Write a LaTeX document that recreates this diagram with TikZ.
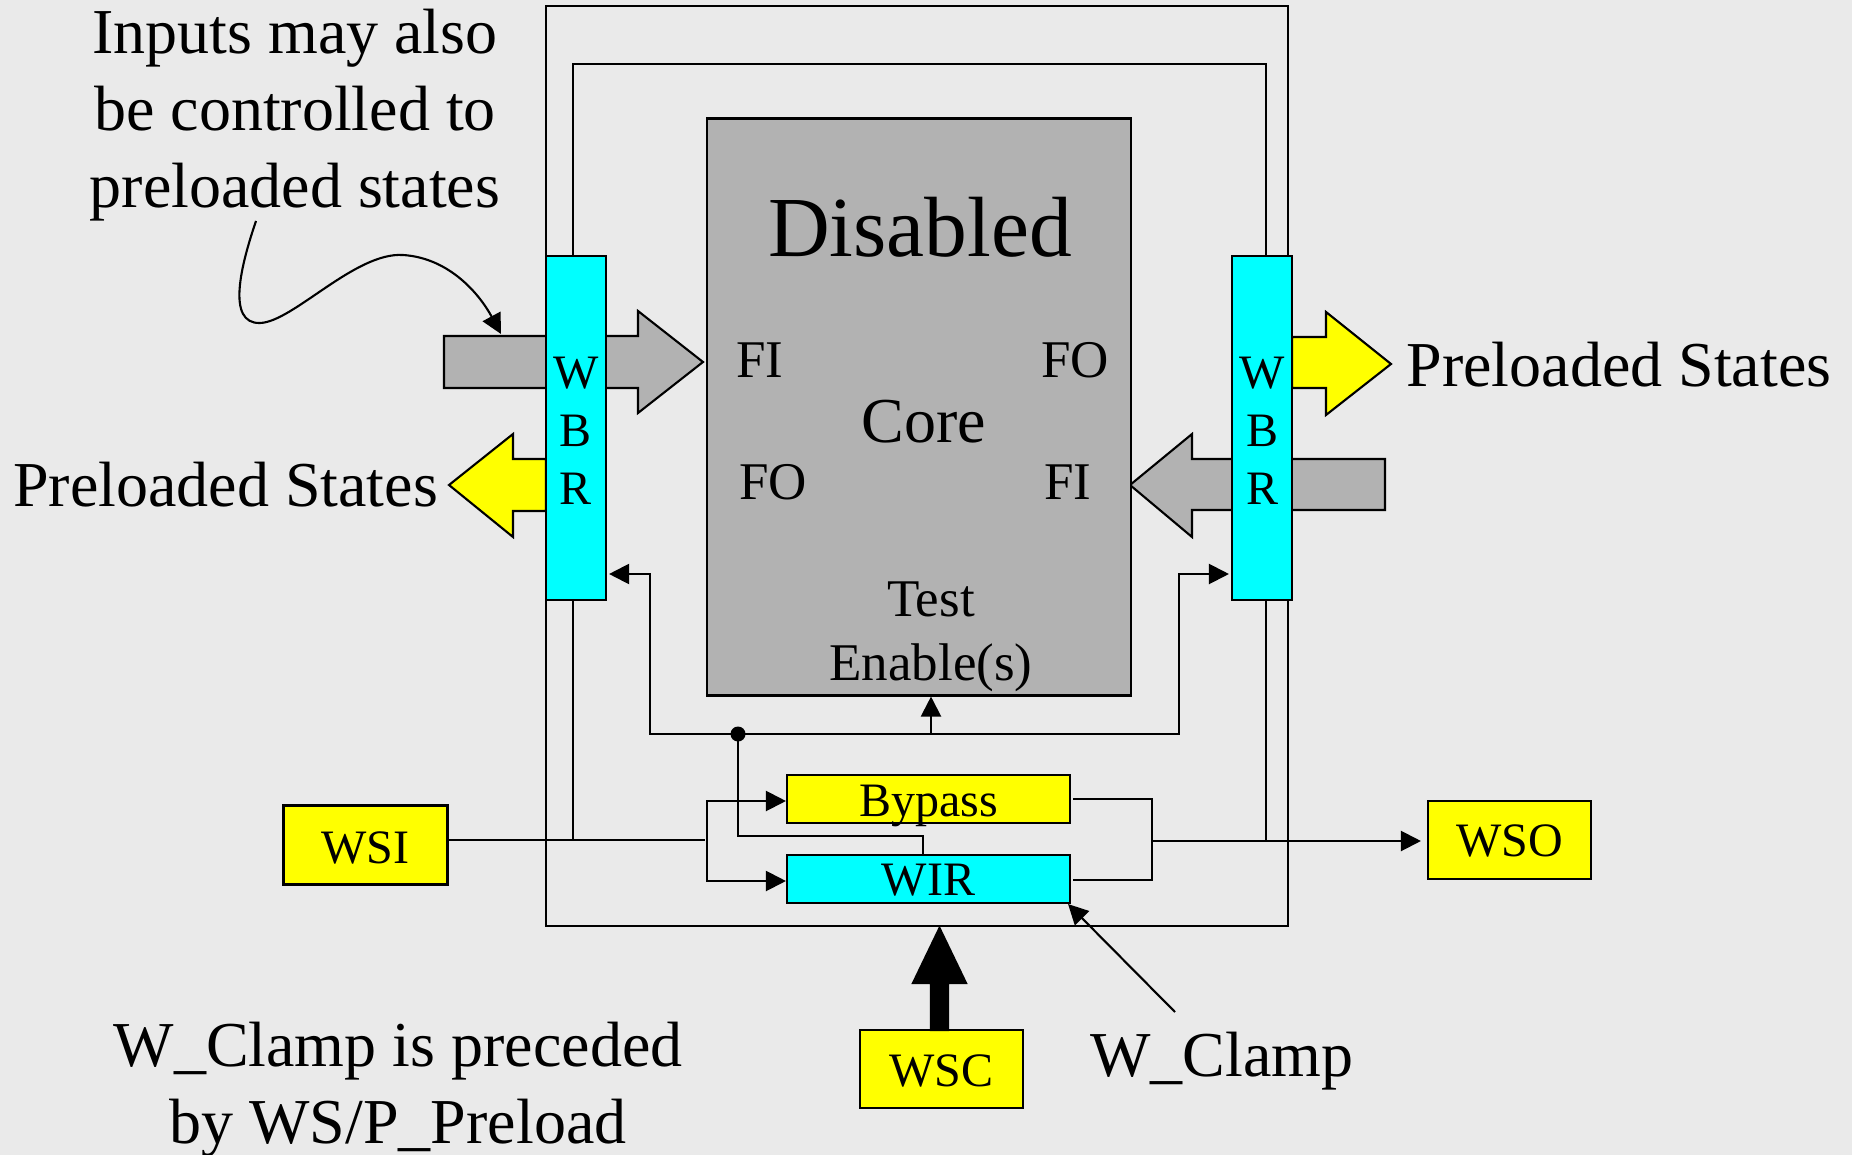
\documentclass[tikz,border=0pt]{standalone}
\usepackage{fontspec}
\setmainfont{Liberation Serif}
\usetikzlibrary{arrows.meta}
\definecolor{bgGray}{HTML}{EAEAEA}
\definecolor{coreGray}{HTML}{B2B2B2}
\definecolor{wbrCyan}{RGB}{0,255,255}
\definecolor{boxYellow}{RGB}{255,255,0}
\newcommand{\dropText}[2]{\raisebox{-#1pt}[\height][\depth]{#2}}
\tikzset{
  wire/.style={line width=2.1pt},
  tipwire/.style={wire,-{Triangle[length=20pt,width=20pt]}},
  cyanbox/.style={draw,line width=2.1pt,fill=wbrCyan,inner sep=0pt},
  yellowbox/.style={draw,line width=2.1pt,fill=boxYellow,inner sep=0pt},
  fatarrow/.style={draw,line width=2.1pt,line join=miter},
  big/.style={font=\fontsize{64}{77}\selectfont,align=center,inner sep=0pt},
  mid/.style={font=\fontsize{53}{64}\selectfont,align=center,inner sep=0pt},
  small/.style={font=\fontsize{48}{58}\selectfont,align=center,inner sep=0pt},
}
\begin{document}
\begin{tikzpicture}[x=1pt,y=-1pt]
    \useasboundingbox (0, 0) rectangle (1852, 1155);
    \fill [bgGray] (0, 0) rectangle (1852, 1155);
    % outer frame
    \draw [wire] (546, 6) rectangle (1288, 926);
    % fat arrows
    \draw [fatarrow,fill=coreGray] (444, 336) -- (638, 336) -- (638, 311) -- (703, 362) -- (638, 413) -- (638, 388) -- (444, 388) -- cycle;
    \draw [fatarrow,fill=coreGray] (1385, 459) -- (1192, 459) -- (1192, 434) -- (1130, 485) -- (1192, 537) -- (1192, 510) -- (1385, 510) -- cycle;
    \draw [fatarrow,fill=boxYellow] (1292, 337) -- (1326, 337) -- (1326, 312) -- (1391, 364) -- (1326, 415) -- (1326, 388) -- (1292, 388) -- cycle;
    \draw [fatarrow,fill=boxYellow] (546, 459) -- (513, 459) -- (513, 434) -- (449, 485) -- (513, 537) -- (513, 511) -- (546, 511) -- cycle;
    % boxes
    \node [draw,line width=2.1pt,fill=coreGray,minimum width=424pt,minimum height=577pt,inner sep=0pt] (core) at (919, 407) {};
    \node [cyanbox,small,minimum width=60pt,minimum height=344pt] (wbrL) at (576, 428) {\dropText{3}{W}\\\dropText{3}{B}\\\dropText{3}{R}};
    \node [cyanbox,small,minimum width=60pt,minimum height=344pt] (wbrR) at (1262, 428) {\dropText{3}{W}\\\dropText{3}{B}\\\dropText{3}{R}};
    \node [yellowbox,small,minimum width=283pt,minimum height=48pt] (bypass) at (928.5, 799) {\dropText{7}{Bypass}};
    \node [cyanbox,small,minimum width=283pt,minimum height=48pt] (wir) at (928.5, 879) {\dropText{1}{WIR}};
    \node [yellowbox,small,minimum width=164pt,minimum height=79pt] (wsi) at (365.5, 845) {\dropText{3}{WSI}};
    \node [yellowbox,small,minimum width=163pt,minimum height=78pt] (wso) at (1509.5, 840) {\dropText{1}{WSO}};
    \node [yellowbox,small,minimum width=163pt,minimum height=78pt] (wsc) at (941.5, 1069) {\dropText{2}{WSC}};
    % inner frame
    \coordinate (innerL) at (573, 64);
    \coordinate (innerR) at (1266, 64);
    \coordinate (wsiEnd) at (705, 840);
    \coordinate (outJoin) at (1152, 841);
    \draw [wire] (wbrL.north -| innerL) -- (innerL) -- (innerR) -- (wbrR.north -| innerR);
    \draw [wire] (wbrL.south -| innerL) -- (innerL |- wsiEnd);
    \draw [wire] (wbrR.south -| innerR) -- (innerR |- outJoin);
    % scan path
    \draw [wire] (wsi.east |- wsiEnd) -- (wsiEnd);
    \coordinate (busTop) at (707, 801);
    \coordinate (busBot) at (707, 881);
    \draw [tipwire] (busBot) -- (busTop) -- (bypass.west |- busTop);
    \draw [tipwire] (busTop) -- (busBot) -- (wir.west |- busBot);
    \coordinate (joinTop) at (1152, 799);
    \coordinate (joinBot) at (1152, 880);
    \draw [wire] (bypass.east |- joinTop) ++(2, 0) -- (joinTop) -- (joinBot) -- ([xshift=2pt]wir.east |- joinBot);
    \draw [tipwire] (outJoin) -- ([xshift=-6pt]wso.west |- outJoin);
    % enables
    \coordinate (dot) at (738, 734);
    \coordinate (tee) at (931, 734);
    \coordinate (enL) at (650, 734);
    \coordinate (enR) at (1179, 734);
    \coordinate (enY) at (0, 574);
    \draw [tipwire] (dot) -- (enL) -- (enL |- enY) -- ([xshift=2pt]wbrL.east |- enY);
    \draw [tipwire] (dot) -- (enR) -- (enR |- enY) -- ([xshift=-2pt]wbrR.west |- enY);
    \draw [tipwire] (tee) -- (tee |- core.south);
    \fill (dot) circle (7.5pt);
    \coordinate (wirTap) at (923, 836);
    \draw [wire] (dot) -- (dot |- wirTap) -- (wirTap) -- (wirTap |- wir.north);
    % clamp
    \coordinate (clampTail) at (1175, 1012);
    \draw [tipwire] (clampTail) -- ([xshift=-3pt,yshift=0pt]wir.south east);
    \draw [fatarrow,fill=black] (931, 1030) -- (931, 983) -- (913, 983) -- (939.5, 928) -- (966, 983) -- (948, 983) -- (948, 1030) -- cycle;
    % curved pointer
    \coordinate (noteTail) at (256, 221);
    \coordinate (noteTip) at (501, 334);
    \draw [tipwire] (noteTail) .. controls (241, 265) and (226, 324) .. (260, 323) .. controls (293, 322) and (355, 252) .. (403, 255) .. controls (450, 258) and (480, 295) .. (noteTip);
    % labels
    \node [big] (note) at (295, 115.5) {Inputs may also\\be controlled to\\preloaded states};
    \node [big] (statesR) at (1619, 365) {Preloaded States};
    \node [big] (statesL) at (225.5, 485) {Preloaded States};
    \node [big] (clampLabel) at (1222, 1061) {W\_Clamp};
    \node [big] (preload) at (398, 1090) {W\_Clamp is preceded\\by WS/P\_Preload};
    \node [font=\fontsize{85.5}{90}\selectfont,inner sep=0pt] (disabled) at (920, 227) {Disabled};
    \node [big] (coreName) at (924, 422) {Core};
    \node [mid] (fiL) at (760, 360) {FI};
    \node [mid] (foL) at (773, 482) {FO};
    \node [mid] (foR) at (1075, 360) {FO};
    \node [mid] (fiR) at (1068, 482) {FI};
    \node [mid] (testEn) at (931, 637) {Test\\Enable(s)};
\end{tikzpicture}
\end{document}
